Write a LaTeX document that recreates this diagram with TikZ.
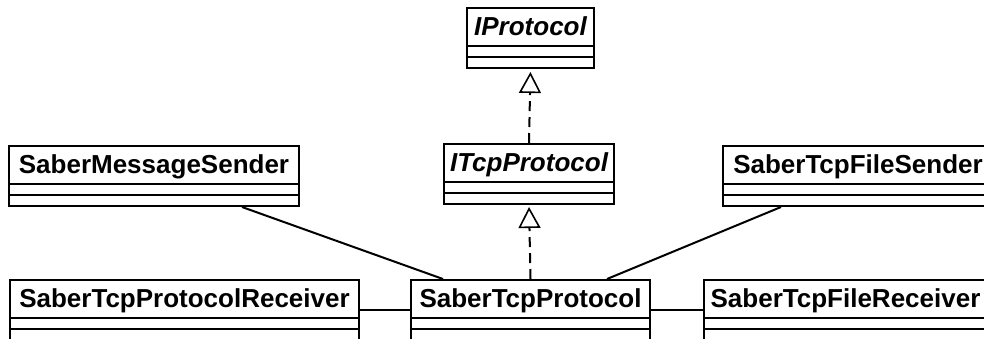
\documentclass[tikz,border=0pt]{standalone}
\usepackage{fontspec}
\setsansfont{Liberation Sans}
\usetikzlibrary{shapes.multipart,arrows.meta}

\newcommand{\classbox}[1]{\rule[-10pt]{0pt}{36pt}#1\nodepart{two}\rule{0pt}{9pt}\nodepart{three}\rule{0pt}{9pt}}

\begin{document}
\begin{tikzpicture}[x=1pt,y=-1pt,
    umlclass/.style={draw, line width=2pt, rectangle split, rectangle split parts=3,
        inner xsep=0pt, inner ysep=0pt, anchor=north west,
        font=\sffamily\bfseries\fontsize{26}{30}\selectfont},
    realize/.style={line width=2pt, dash pattern=on 10pt off 6pt,
        -{Triangle[open,width=22pt,length=21pt,line width=1.6pt]}},
    assoc/.style={line width=2pt}]
    \useasboundingbox (0,0) rectangle (984,338);

    \node (IP) [umlclass, minimum width=127pt] at (466,7) {\classbox{\itshape IProtocol}};
    \node (ITP) [umlclass, minimum width=170pt] at (443,143) {\classbox{\itshape ITcpProtocol}};
    \node (MS) [umlclass, minimum width=290pt] at (8,145) {\classbox{SaberMessageSender}};
    \node (FS) [umlclass, minimum width=270pt] at (722,145) {\classbox{SaberTcpFileSender}};
    \node (PR) [umlclass, minimum width=349pt] at (9,279) {\classbox{SaberTcpProtocolReceiver}};
    \node (TP) [umlclass, minimum width=239pt] at (410,279) {\classbox{SaberTcpProtocol}};
    \node (FR) [umlclass, minimum width=283pt] at (703,279) {\classbox{SaberTcpFileReceiver}};

    \draw [realize, shorten >=3pt] (ITP.north) -- (IP.south);
    \draw [realize, shorten >=2pt] (TP.north) -- (ITP.south);

    \draw [assoc] ([xshift=234pt]MS.south west) -- ([xshift=33pt]TP.north west);
    \draw [assoc] ([xshift=59pt]FS.south west) -- ([xshift=-44pt]TP.north east);
    \draw [assoc] (PR.east) -- (TP.west);
    \draw [assoc] (TP.east) -- (FR.west);
\end{tikzpicture}
\end{document}
